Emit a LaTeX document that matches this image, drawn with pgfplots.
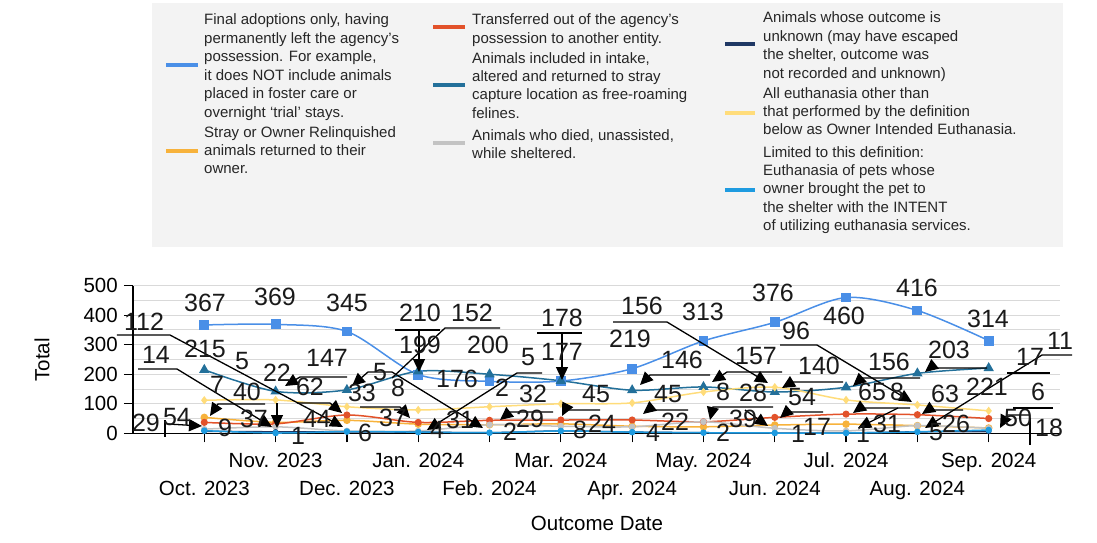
\documentclass[border=0pt]{standalone}
\usepackage{pgfplots}
\pgfplotsset{compat=1.18}
\usepackage{fontspec}
\setmainfont{Liberation Sans}
\usetikzlibrary{arrows.meta}

\definecolor{cAdopt}{HTML}{4A8FE7}
\definecolor{cRTO}{HTML}{F7B23B}
\definecolor{cTrans}{HTML}{E2522A}
\definecolor{cTNR}{HTML}{23709A}
\definecolor{cDied}{HTML}{C3C3C3}
\definecolor{cUnk}{HTML}{1F3864}
\definecolor{cEuth}{HTML}{FFDC7A}
\definecolor{cOIE}{HTML}{1E9BE0}
\definecolor{legbg}{HTML}{F3F3F3}
\definecolor{gridc}{HTML}{D9D9D9}
\definecolor{lblc}{HTML}{1A1A1A}

\tikzset{
  ldr/.style={black, line width=1.3pt},
  arr/.style={ldr, -{Triangle[length=13pt,width=12pt]}},
}

\begin{document}
\begin{tikzpicture}
\path[use as bounding box] (-133pt,-108.7pt) rectangle (964pt,433.3pt);

\begin{axis}[
  at={(0pt,0pt)}, anchor=south west,
  scale only axis, width=927pt, height=147.6pt,
  xmin=-1, xmax=12, ymin=0, ymax=500,
  axis lines*=left,
  axis line style={-, black, line width=1.2pt},
  xtick={0,...,11},
  xticklabels={
    {\strut\\\strut Oct. 2023},{\strut Nov. 2023\\\strut},
    {\strut\\\strut Dec. 2023},{\strut Jan. 2024\\\strut},
    {\strut\\\strut Feb. 2024},{\strut Mar. 2024\\\strut},
    {\strut\\\strut Apr. 2024},{\strut May. 2024\\\strut},
    {\strut\\\strut Jun. 2024},{\strut Jul. 2024\\\strut},
    {\strut\\\strut Aug. 2024},{\strut Sep. 2024\\\strut}},
  x tick label style={align=center, font=\fontsize{20.5}{28}\selectfont, inner sep=0pt, yshift=-5pt},
  ytick={0,100,...,500},
  minor ytick={50,150,...,450},
  ymajorgrids, yminorgrids,
  major grid style={gridc, line width=1pt},
  minor grid style={gridc, line width=1pt},
  tick align=outside,
  major tick length=9pt, minor tick length=0pt,
  tick style={black, line width=1.2pt},
  y tick label style={font=\fontsize{20.5}{24}\selectfont, inner sep=0pt, xshift=-6pt},
  /pgf/number format/assume math mode=true,
  clip=false,
]
% Final adoptions
\addplot[cAdopt, line width=1.5pt, smooth, tension=0.5, mark=square*, mark size=4.2pt] coordinates {
  (0,367) (1,369) (2,345) (3,199) (4,176) (5,177) (6,219) (7,313) (8,376) (9,460) (10,416) (11,314)};
% Returned to owner
\addplot[cRTO, line width=1.5pt, smooth, tension=0.5, mark=*, mark size=3pt] coordinates {
  (0,54) (1,37) (2,44) (3,31) (4,29) (5,32) (6,24) (7,22) (8,28) (9,31) (10,26) (11,18)};
% Transferred
\addplot[cTrans, line width=1.5pt, smooth, tension=0.5, mark=*, mark size=2.8pt] coordinates {
  (0,37) (1,32) (2,62) (3,37) (4,44) (5,45) (6,45) (7,39) (8,54) (9,65) (10,63) (11,50)};
% TNR
\addplot[cTNR, line width=1.5pt, smooth, tension=0.5, mark=triangle*, mark size=4.5pt] coordinates {
  (0,215) (1,142) (2,147) (3,210) (4,200) (5,178) (6,146) (7,157) (8,140) (9,156) (10,203) (11,221)};
% Died
\addplot[cDied, line width=1.5pt, smooth, tension=0.5, mark=*, mark size=2.5pt] coordinates {
  (0,14) (1,22) (2,8) (3,8) (4,29) (5,24) (6,22) (7,39) (8,17) (9,8) (10,26) (11,17)};
% Unknown
\addplot[cUnk, line width=1.5pt, smooth, tension=0.5, mark=*, mark size=2pt] coordinates {
  (0,7) (1,5) (2,5) (3,4) (4,2) (5,8) (6,4) (7,2) (8,1) (9,1) (10,5) (11,6)};
% Euthanasia
\addplot[cEuth, line width=1.5pt, smooth, tension=0.5, mark=diamond*, mark size=3pt] coordinates {
  (0,112) (1,113) (2,90) (3,79) (4,90) (5,100) (6,103) (7,140) (8,156) (9,113) (10,96) (11,76)};
% Owner intended euthanasia
\addplot[cOIE, line width=1.5pt, smooth, tension=0.5, mark=*, mark size=2.5pt] coordinates {
  (0,9) (1,1) (2,6) (3,4) (4,2) (5,8) (6,4) (7,2) (8,1) (9,1) (10,5) (11,11)};
\end{axis}

\begin{scope}[shift={(-133pt,433.3pt)}, x=1pt, y=-1pt]
% legend box
\fill[legbg] (152,3) rectangle (1063,247);
\begin{scope}[every node/.style={anchor=base west, inner sep=0pt, font=\fontsize{15}{18}\selectfont, text=black!85}]
\foreach \t [count=\i from 0] in {{Final adoptions only, having},{permanently left the agency's},{possession. For example,},{it does NOT include animals},{placed in foster care or},{overnight `trial' stays.}}
  \node at (204,{25+18.4*\i}) {\t};
\foreach \t [count=\i from 0] in {{Stray or Owner Relinquished},{animals returned to their},{owner.}}
  \node at (204,{137+18.4*\i}) {\t};
\foreach \t [count=\i from 0] in {{Transferred out of the agency's},{possession to another entity.}}
  \node at (472,{25+18.4*\i}) {\t};
\foreach \t [count=\i from 0] in {{Animals included in intake,},{altered and returned to stray},{capture location as free-roaming},{felines.}}
  \node at (472,{63+18.4*\i}) {\t};
\foreach \t [count=\i from 0] in {{Animals who died, unassisted,},{while sheltered.}}
  \node at (472,{140+18.4*\i}) {\t};
\foreach \t [count=\i from 0] in {{Animals whose outcome is},{unknown (may have escaped},{the shelter, outcome was},{not recorded and unknown)}}
  \node at (763,{23+18.4*\i}) {\t};
\foreach \t [count=\i from 0] in {{All euthanasia other than},{that performed by the definition},{below as Owner Intended Euthanasia.}}
  \node at (763,{98+18.4*\i}) {\t};
\foreach \t [count=\i from 0] in {{Limited to this definition:},{Euthanasia of pets whose},{owner brought the pet to},{the shelter with the INTENT},{of utilizing euthanasia services.}}
  \node at (763,{157+18.4*\i}) {\t};
\end{scope}
\draw[cAdopt, line width=3.5pt] (166,65) -- (198,65);
\draw[cRTO, line width=3.5pt] (166,151) -- (198,151);
\draw[cTrans, line width=3.5pt] (433,27) -- (465,27);
\draw[cTNR, line width=3.5pt] (433,85) -- (465,85);
\draw[cDied, line width=3.5pt] (433,143) -- (465,143);
\draw[cUnk, line width=3.5pt] (725,44) -- (755,44);
\draw[cEuth, line width=3.5pt] (725,113) -- (755,113);
\draw[cOIE, line width=3.5pt] (725,190) -- (755,190);

% axis titles
\node[font=\fontsize{20.5}{24}\selectfont, inner sep=0pt] at (597,523) {Outcome Date};
\node[font=\fontsize{20.5}{24}\selectfont, inner sep=0pt, rotate=90] at (42,360) {Total};

% leader lines of displaced data labels
\draw[arr] (117,335)--(170,335)--(343,427);
\draw[arr] (138,369)--(177,369)--(272,427);
\draw[arr] (265,404)--(218,404)--(210,416);
\draw[arr] (277,403)--(277,428);
\draw[arr] (347,377)--(300,377)--(285,386);
\draw[arr] (297,403)--(330,403)--(342,413);
\draw[arr] (392,372)--(368,372)--(352,386);
\draw[arr] (392,372)--(483,428);
\draw[ldr] (500,328)--(445,328)--(392,378);
\draw[ldr] (395,330)--(440,330);
\draw[arr] (419,330)--(419,372);
\draw[ldr] (537,333)--(582,333);
\draw[arr] (562,333)--(562,380);
\draw[arr] (542,373)--(517,373)--(427,430);
\draw[arr] (613,322)--(667,322)--(768,383);
\draw[arr] (710,375)--(650,375)--(640,385);
\draw[arr] (782,372)--(727,372)--(712,382);
\draw[arr] (780,345)--(817,345)--(912,402);
\draw[arr] (843,382)--(792,382)--(782,388);
\draw[arr] (920,378)--(862,378)--(853,386);
\draw[arr] (987,368)--(930,368)--(925,372);
\draw[arr] (910,408)--(860,408)--(853,413);
\draw[arr] (963,410)--(928,410)--(922,414);
\draw[arr] (1072,355)--(1042,355)--(925,428);
\draw[ldr] (1007,373)--(1050,373);
\draw[ldr] (1013,408)--(1053,408);
\draw[arr] (1030,415)--(1007,415)--(1000,428);
\draw[ldr] (1030,418)--(1030,445);
\draw[arr] (168,424)--(202,426);
\draw[ldr] (165,420)--(165,437);
\draw[arr] (360,407)--(400,407)--(410,418);
\draw[arr] (553,412)--(510,412)--(500,420);
\draw[arr] (600,410)--(565,410)--(562,416);
\draw[arr] (688,410)--(648,410)--(643,414);
\draw[arr] (773,407)--(713,407)--(710,420);
\draw[arr] (745,410)--(768,426);
\draw[arr] (823,412)--(787,412)--(780,418);
\draw[arr] (898,408)--(858,428);

% data labels
\foreach \px/\py/\t in {
  144/322/112, 205/303/367, 275/297/369, 347/303/345, 420/313/210, 472/313/152,
  562/318/178, 642/306/156, 703/312/313, 773/293/376, 917/288/416, 988/319/314, 1060/341/11,
  156/355/14, 205/349/215, 242/361/5, 277/373/22, 327/358/147, 380/372/5, 420/345/199,
  488/345/200, 528/357/5, 562/352/177, 630/339/219, 682/360/146, 756/356/157, 796/331/96,
  844/316/460, 819/366/140, 889/362/156, 949/350/203, 1030/357/17,
  217/385/7, 247/392/40, 310/387/62, 362/393/33, 398/388/8, 457/379/176, 502/388/2,
  533/394/32, 596/394/45, 668/394/45, 723/392/8, 753/393/28, 802/397/54, 872/392/65,
  897/392/8, 945/394/63, 987/387/221, 1038/392/6,
  146/423/29, 177/417/54, 225/428/9, 254/419/37, 298/436/1, 317/419/44, 365/433/6,
  393/418/37, 437/430/4, 460/420/31, 510/432/2, 530/419/29, 580/430/8, 602/424/24,
  653/433/4, 675/422/22, 723/433/2, 743/419/39, 798/434/1, 817/427/17, 863/434/1,
  887/424/31, 936/432/5, 956/424/26, 1018/418/50, 1049/428/18}
  \node[font=\fontsize{25}{28}\selectfont, text=lblc, inner sep=0pt] at (\px,\py) {\t};
\end{scope}
\end{tikzpicture}
\end{document}
